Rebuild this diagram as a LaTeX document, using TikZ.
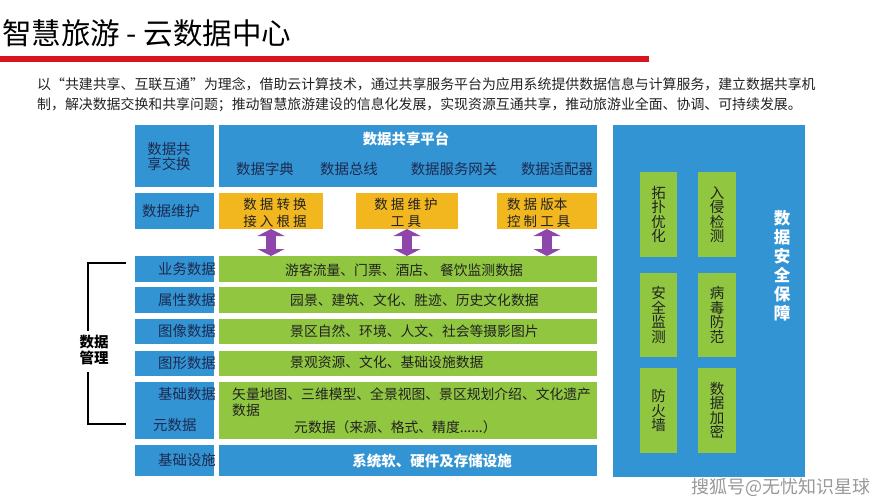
\documentclass[tikz,border=0pt]{standalone}
\usepackage{fontspec}
\setmainfont{Noto Sans CJK SC}
\usetikzlibrary{arrows.meta}
\definecolor{cblue}{RGB}{51,148,211}
\definecolor{cgreen}{RGB}{144,198,64}
\definecolor{cyellow}{RGB}{242,182,30}
\definecolor{cpurple}{RGB}{142,70,170}
\definecolor{cred}{RGB}{215,20,32}
\definecolor{cnavy}{RGB}{28,42,80}
\definecolor{cdark}{RGB}{34,34,34}
\newcommand\myfs[2]{\fontsize{#1}{#2}\selectfont}
\begin{document}
\begin{tikzpicture}[x=1pt,y=-1pt,
  box/.style={draw=none, inner sep=0pt, outer sep=0pt, anchor=north west},
  bluebox/.style={box, fill=cblue},
  greenbox/.style={box, fill=cgreen},
  yellowbox/.style={box, fill=cyellow},
  lbl/.style={inner sep=0pt, text=cnavy, font=\myfs{14.4}{15}},
  gtxt/.style={inner sep=0pt, text=cdark, font=\myfs{13.8}{16}, anchor=west},
  ytxt/.style={inner sep=0pt, text=cdark, font=\myfs{13.5}{17}},
  vtxt/.style={inner sep=0pt, text=cdark, font=\myfs{14.5}{14.5}, align=center},
  dbl/.style={draw=cpurple, line width=10pt,
    {Triangle[width=27pt,length=7pt]}-{Triangle[width=27pt,length=7pt]}},
  bracket/.style={draw=black, line width=1.6pt}
]
\useasboundingbox (0,0) rectangle (889,500);
\fill[white] (0,0) rectangle (889,500);

% title
\node[anchor=west, inner sep=0pt, text=black, font=\myfs{29.5}{31}] (title) at (2,33) {智慧旅游 - 云数据中心};
\node[box, fill=cred, minimum width=649, minimum height=6] (redbar) at (0,56) {};

% paragraph
\node[anchor=west, inner sep=0pt, text=cdark, font=\myfs{13.9}{16}] (p1) at (37,84) {以“共建共享、互联互通”为理念，借助云计算技术，通过共享服务平台为应用系统提供数据信息与计算服务，建立数据共享机};
\node[anchor=west, inner sep=0pt, text=cdark, font=\myfs{13.9}{16}] (p2) at (37,105) {制，解决数据交换和共享问题；推动智慧旅游建设的信息化发展，实现资源互通共享，推动旅游业全面、协调、可持续发展。};

% left column
\node[bluebox, minimum width=79, minimum height=62] (lsh) at (135,125) {};
\node[bluebox, minimum width=79, minimum height=36] (lwh) at (135,193) {};
\node[bluebox, minimum width=79, minimum height=26] (lyw) at (135,256) {};
\node[bluebox, minimum width=79, minimum height=26] (lsx) at (135,287) {};
\node[bluebox, minimum width=79, minimum height=25] (ltx) at (135,319) {};
\node[bluebox, minimum width=79, minimum height=25] (ltg) at (135,351) {};
\node[bluebox, minimum width=79, minimum height=57] (ljc) at (135,382) {};
\node[bluebox, minimum width=79, minimum height=31] (lss) at (135,445) {};

\node[lbl, align=center] (tsh) at (169,157) {数据共\\享交换};
\node[lbl] (twh) at (171,211) {数据维护};
\node[lbl, anchor=east] (tyw) at (216,269) {业务数据};
\node[lbl, anchor=east] (tsx) at (216,300) {属性数据};
\node[lbl, anchor=east] (ttx) at (216,331.5) {图像数据};
\node[lbl, anchor=east] (ttg) at (216,363.5) {图形数据};
\node[lbl, anchor=east] (tjc) at (216,394) {基础数据};
\node[lbl, anchor=west] (tys) at (153,425) {元数据};
\node[lbl, anchor=east] (tss) at (216,460.5) {基础设施};

% platform
\node[bluebox, minimum width=378, minimum height=62] (plat) at (219,125) {};
\node[inner sep=0pt, text=white, font=\myfs{14.4}{16}\bfseries] (ptitle) at (406,139) {数据共享平台};
\node[lbl] (pi1) at (265,169) {数据字典};
\node[lbl] (pi2) at (349,169) {数据总线};
\node[lbl] (pi3) at (454,169) {数据服务网关};
\node[lbl] (pi4) at (557,169) {数据适配器};

% maintenance tools
\node[yellowbox, minimum width=104, minimum height=36] (y1) at (219,193) {};
\node[yellowbox, minimum width=102, minimum height=36] (y2) at (356,193) {};
\node[yellowbox, minimum width=100, minimum height=36] (y3) at (497,193) {};
\node[ytxt, align=center] (yt1) at (275,213) {数 据 转 换\\接 入 根 据};
\node[ytxt, align=center] (yt2) at (406,213) {数 据 维 护\\工 具};
\node[ytxt, align=left, anchor=west] (yt3) at (507,213) {数 据 版本\\控 制 工 具};

% data rows
\node[greenbox, minimum width=378, minimum height=26] (gyw) at (219,256) {};
\node[greenbox, minimum width=378, minimum height=26] (gsx) at (219,287) {};
\node[greenbox, minimum width=378, minimum height=25] (gtx) at (219,319) {};
\node[greenbox, minimum width=378, minimum height=25] (gtg) at (219,351) {};
\node[greenbox, minimum width=378, minimum height=57] (gjc) at (219,382) {};
\node[bluebox, minimum width=378, minimum height=31] (gss) at (219,445) {};

\node[gtxt] (gt1) at (285,270) {游客流量、门票、酒店、 餐饮监测数据};
\node[gtxt] (gt2) at (290,300) {园景、建筑、文化、胜迹、历史文化数据};
\node[gtxt] (gt3) at (290,331.5) {景区自然、环境、人文、社会等摄影图片};
\node[gtxt] (gt4) at (290,362.5) {景观资源、文化、基础设施数据};
\node[gtxt, align=left] (gt5) at (232,402) {矢量地图、三维模型、全景视图、景区规划介绍、文化遗产\\数据};
\node[gtxt] (gt6) at (294,427) {元数据（来源、格式、精度......）};
\node[inner sep=0pt, text=white, font=\myfs{14.5}{16}\bfseries] (gt7) at (432,461) {系统软、硬件及存储设施};

% double arrows
\draw[dbl] (y1.south) -- (y1.south |- gyw.north);
\draw[dbl] (y2.south) -- (y2.south |- gyw.north);
\draw[dbl] (y3.south) -- (y3.south |- gyw.north);

% bracket
\node[inner sep=0pt, text=black, font=\myfs{14.5}{16}\bfseries, align=center] (dm) at (94,350) {数据\\管理};
\coordinate (bt) at (126,263);
\coordinate (bb) at (126,424);
\draw[bracket] (bt) -- (88,263) -- (88,331);
\draw[bracket] (88,372) -- (88,424) -- (bb);

% security
\node[bluebox, minimum width=192, minimum height=352] (sec) at (613,125) {};
\node[greenbox, minimum width=37, minimum height=85] (s1) at (640,172) {};
\node[greenbox, minimum width=38, minimum height=85] (s2) at (698,172) {};
\node[greenbox, minimum width=37, minimum height=84] (s3) at (640,273) {};
\node[greenbox, minimum width=38, minimum height=84] (s4) at (698,273) {};
\node[greenbox, minimum width=37, minimum height=85] (s5) at (640,368) {};
\node[greenbox, minimum width=38, minimum height=85] (s6) at (698,368) {};
\node[vtxt] (st1) at (s1.center) {拓\\扑\\优\\化};
\node[vtxt] (st2) at (s2.center) {入\\侵\\检\\测};
\node[vtxt] (st3) at (s3.center) {安\\全\\监\\测};
\node[vtxt] (st4) at (s4.center) {病\\毒\\防\\范};
\node[vtxt] (st5) at (s5.center) {防\\火\\墙};
\node[vtxt] (st6) at (s6.center) {数\\据\\加\\密};
\node[inner sep=0pt, text=white, font=\myfs{16.5}{19}\bfseries, align=center] (stitle) at (782,266) {数\\据\\安\\全\\保\\障};

% watermark
\node[inner sep=0pt, text=black!40, font=\myfs{18}{20}] (wm) at (781,487) {搜狐号@无忧知识星球};
\end{tikzpicture}
\end{document}
